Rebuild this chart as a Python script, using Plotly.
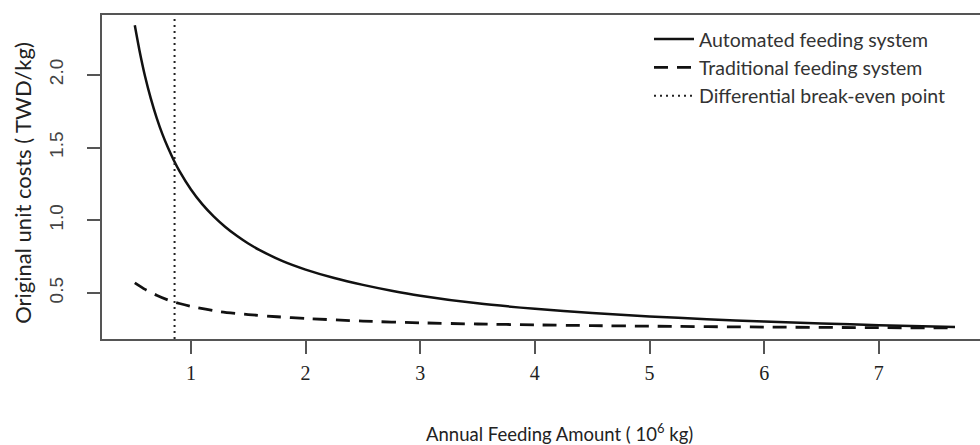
import plotly.graph_objects as go

# Data
auto_x = [0.51, 0.55, 0.6, 0.65, 0.7, 0.75, 0.8, 0.85, 0.9, 1.0, 1.1, 1.2, 1.3, 1.4, 1.5, 1.6, 1.8,
          2.0, 2.25, 2.5, 2.75, 3.0, 3.5, 4.0, 4.5, 5.0, 5.5, 6.0, 6.5, 7.0, 7.665]
auto_y = [2.34, 2.171, 1.988, 1.836, 1.706, 1.594, 1.498, 1.413, 1.338, 1.212, 1.109, 1.025, 0.954, 0.893,
          0.840, 0.795, 0.719, 0.661, 0.603, 0.556, 0.516, 0.482, 0.429, 0.392, 0.362, 0.339, 0.320,
          0.304, 0.291, 0.279, 0.266]

trad_x = [0.51, 0.6, 0.7, 0.8, 0.9, 1.0, 1.25, 1.5, 1.75, 2.0, 2.5, 3.0, 3.5, 4.0, 4.5, 5.0, 6.0, 7.0, 7.665]
trad_y = [0.57, 0.525, 0.485, 0.452, 0.428, 0.408, 0.372, 0.352, 0.337, 0.325, 0.307, 0.295, 0.287, 0.281,
          0.276, 0.272, 0.266, 0.262, 0.26]

break_even_x = 0.857

x_range = [0.224, 7.883]
y_range = [0.184, 2.411]

x_ticks = [1, 2, 3, 4, 5, 6, 7]
y_ticks = [0.5, 1.0, 1.5, 2.0]
y_tick_labels = ["0.5", "1.0", "1.5", "2.0"]

names = ["Automated feeding system", "Traditional feeding system", "Differential break-even point"]

fig = go.Figure()
fig.add_trace(go.Scatter(x=auto_x, y=auto_y, mode="lines", name=names[0],
                         line=dict(color="#111111", width=2.5, shape="spline", smoothing=0.6)))
fig.add_trace(go.Scatter(x=trad_x, y=trad_y, mode="lines", name=names[1],
                         line=dict(color="#111111", width=2.8, dash="14px,9px", shape="spline", smoothing=0.6)))
fig.add_trace(go.Scatter(x=[break_even_x, break_even_x], y=y_range, mode="lines", name=names[2],
                         line=dict(color="#222222", width=2, dash="2px,4px")))

fig.update_layout(
    width=980, height=445,
    margin=dict(l=102, r=0, t=15, b=106),
    paper_bgcolor="white", plot_bgcolor="white",
    showlegend=True,
    legend=dict(x=0.623, y=0.985, xanchor="left", yanchor="top",
                font=dict(family="Lato", size=19.5, color="#333333"),
                bgcolor="rgba(0,0,0,0)", tracegroupgap=0, itemwidth=40),
    xaxis=dict(range=x_range, tickmode="array", tickvals=x_ticks,
               showgrid=False, zeroline=False,
               showline=True, linecolor="#555555", linewidth=1.5, mirror=True,
               ticks="outside", ticklen=13, tickwidth=1.5, tickcolor="#555555",
               ticklabelstandoff=2,
               tickfont=dict(family="Liberation Serif", size=20, color="#222222")),
    yaxis=dict(range=y_range, tickmode="array", tickvals=y_ticks, ticktext=y_tick_labels,
               showgrid=False, zeroline=False,
               showline=True, linecolor="#555555", linewidth=1.5, mirror=False,
               ticks="outside", ticklen=13, tickwidth=1.5, tickcolor="#555555",
               tickangle=-90, ticklabelstandoff=17,
               tickfont=dict(family="Liberation Sans", size=19, color="#444444")),
    annotations=[
        dict(text="Annual Feeding Amount ( 10<sup>6</sup> kg)", xref="paper", yref="paper",
             x=(559 - 102) / 878, y=(339.3 - 433) / 324.3, xanchor="center", yanchor="middle",
             showarrow=False, font=dict(family="Lato", size=18.5, color="#222222")),
        dict(text="Original unit costs ( TWD/kg)", xref="paper", yref="paper",
             x=(23 - 102) / 878, y=(339.3 - 183) / 324.3, xanchor="center", yanchor="middle",
             showarrow=False, textangle=-90, font=dict(family="Lato", size=22, color="#222222")),
    ],
)

fig.write_html("out.html",
               config={"displayModeBar": False},
               post_script="document.body.style.margin='0';document.body.style.padding='0';"
                           "document.body.style.overflow='hidden';")
